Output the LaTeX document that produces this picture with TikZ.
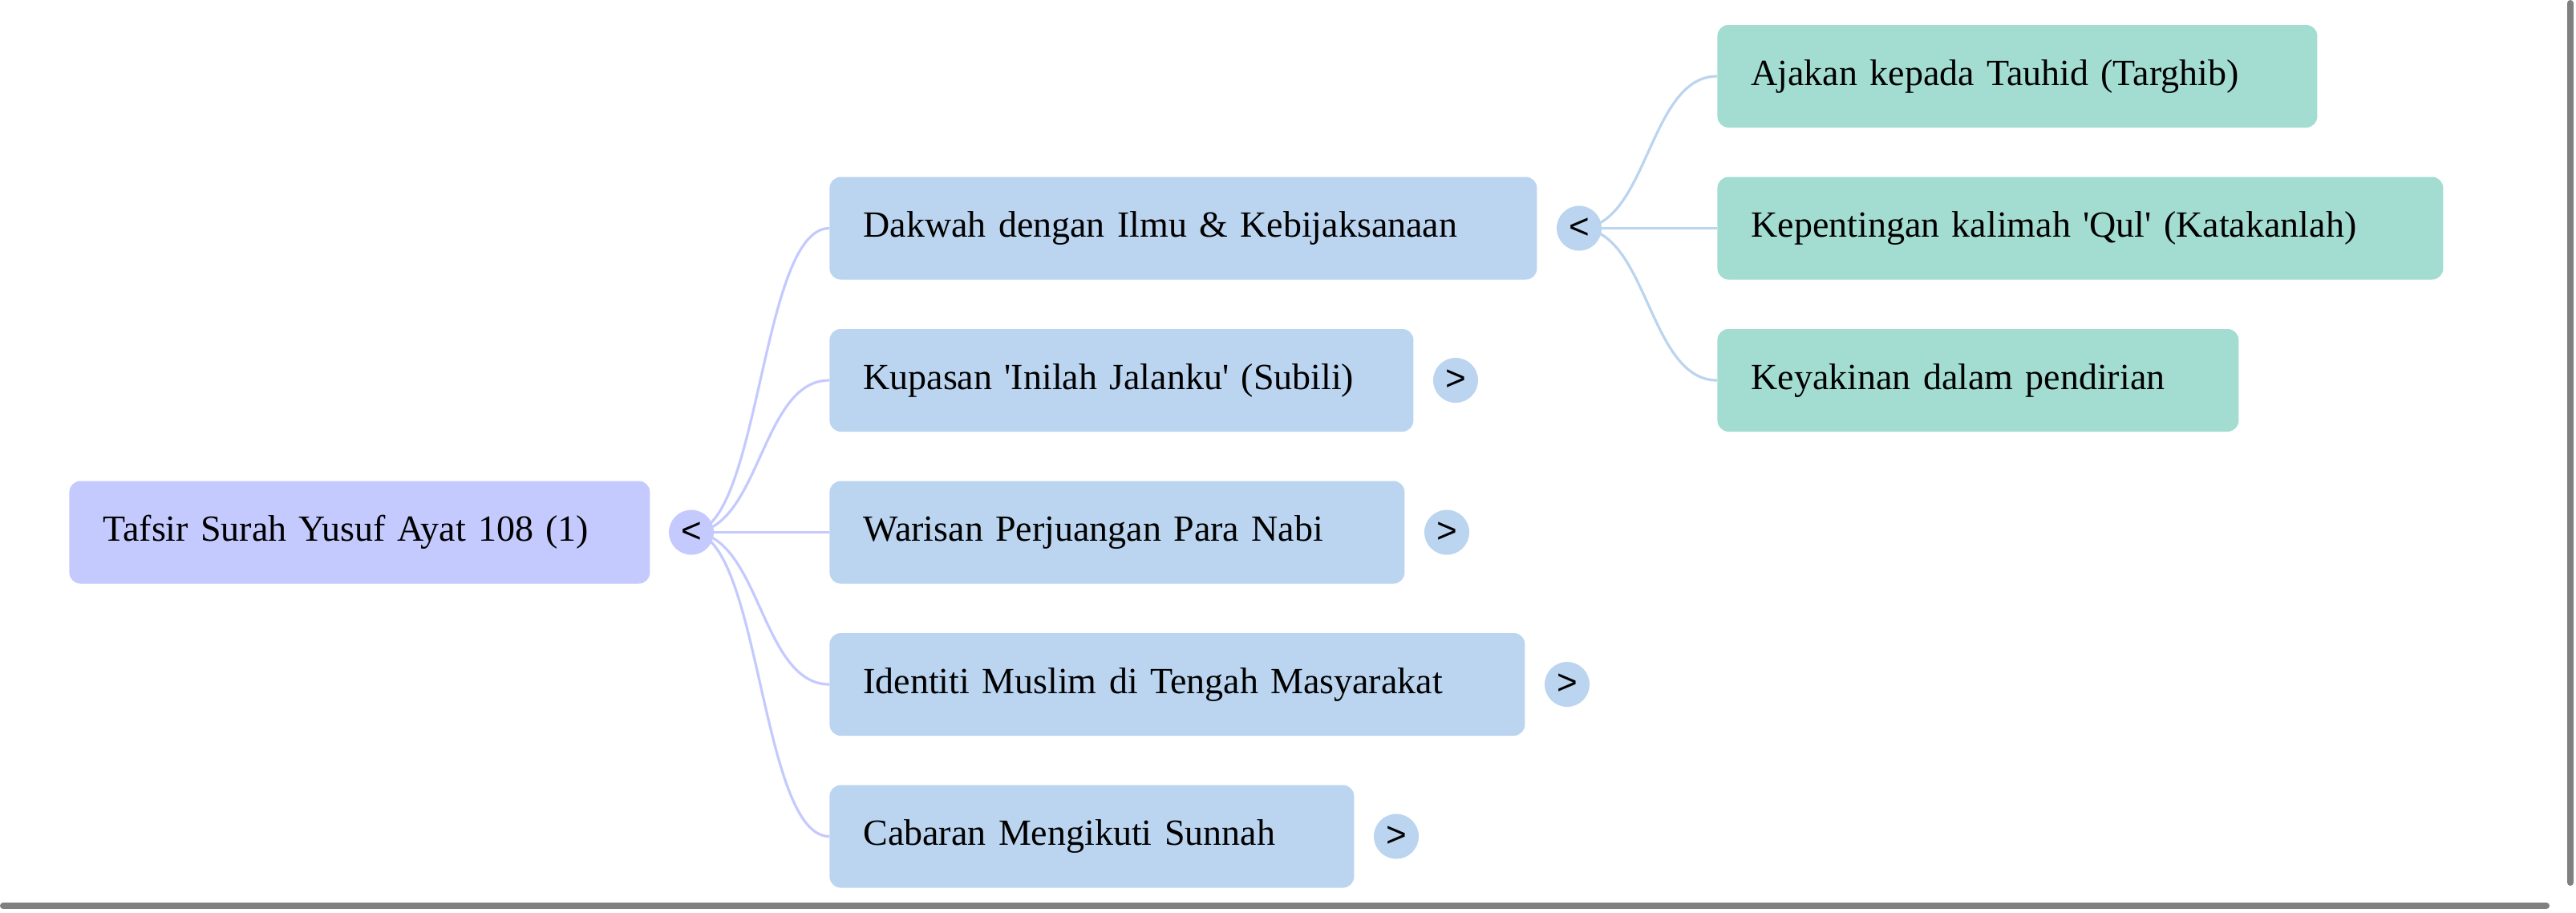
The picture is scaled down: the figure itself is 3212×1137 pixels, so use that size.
\documentclass[tikz,border=0pt]{standalone}
\usepackage{fontspec}
\setmainfont{Liberation Serif}[Ligatures=TeXOff]
\newfontfamily\togglefont{Liberation Sans}
\usetikzlibrary{backgrounds}
\definecolor{rootc}{HTML}{C5CAFE}
\definecolor{lvlone}{HTML}{BBD4EF}
\definecolor{lvltwo}{HTML}{A3DCD1}
\definecolor{barc}{HTML}{808080}
\tikzset{
  mbox/.style={anchor=west, rounded corners=7pt, minimum height=64pt, inner xsep=21pt, inner ysep=0pt, align=left, font=\fontsize{23}{27}\selectfont, text=black},
  rootbox/.style={mbox, fill=rootc},
  onebox/.style={mbox, fill=lvlone},
  twobox/.style={mbox, fill=lvltwo},
  tog/.style={circle, minimum size=28pt, inner sep=0pt, font=\togglefont\fontsize{22}{22}\selectfont, text=black},
  rootline/.style={draw=rootc, line width=1.6pt},
  oneline/.style={draw=lvlone, line width=1.6pt},
}
\begin{document}
\begin{tikzpicture}[x=0.5pt,y=-0.5pt]
\useasboundingbox (0,0) rectangle (3212,1137);
% root
\node[rootbox, text width=320pt] (root) at (86,663.5) {Tafsir Surah Yusuf Ayat 108 (1)};
\node[tog, fill=rootc] (rt) at (862,663.5) {<};
% level 1
\node[onebox, text width=399pt] (d1) at (1034,284.5) {Dakwah dengan Ilmu \& Kebijaksanaan};
\node[onebox, text width=322pt] (d2) at (1034,474) {Kupasan 'Inilah Jalanku' (Subili)};
\node[onebox, text width=316.5pt] (d3) at (1034,663.5) {Warisan Perjuangan Para Nabi};
\node[onebox, text width=391.5pt] (d4) at (1034,853) {Identiti Muslim di Tengah Masyarakat};
\node[onebox, text width=285pt] (d5) at (1034,1042.5) {Cabaran Mengikuti Sunnah};
\node[tog, fill=lvlone] (t1) at (1969,284.5) {<};
\node[tog, fill=lvlone] (t2) at (1815,474) {>};
\node[tog, fill=lvlone] (t3) at (1804,663.5) {>};
\node[tog, fill=lvlone] (t4) at (1954,853) {>};
\node[tog, fill=lvlone] (t5) at (1741,1042.5) {>};
% level 2
\node[twobox, text width=332pt] (g1) at (2141,95) {Ajakan kepada Tauhid (Targhib)};
\node[twobox, text width=410.5pt] (g2) at (2141,284.5) {Kepentingan kalimah 'Qul' (Katakanlah)};
\node[twobox, text width=283pt] (g3) at (2141,474) {Keyakinan dalam pendirian};
% connectors
\begin{pgfonlayer}{background}
\foreach \n in {d1,d2,d3,d4,d5}{
  \draw[rootline] (rt.center) .. controls +(86,0) and +(-86,0) .. (\n.west);
}
\foreach \n in {g1,g2,g3}{
  \draw[oneline] (t1.center) .. controls +(86,0) and +(-86,0) .. (\n.west);
}
\end{pgfonlayer}
% scrollbars
\draw[barc, line width=4pt, line cap=round] (3205,4) -- (3205,1100);
\draw[barc, line width=4pt, line cap=round] (4,1129) -- (3175,1129);
\end{tikzpicture}
\end{document}
